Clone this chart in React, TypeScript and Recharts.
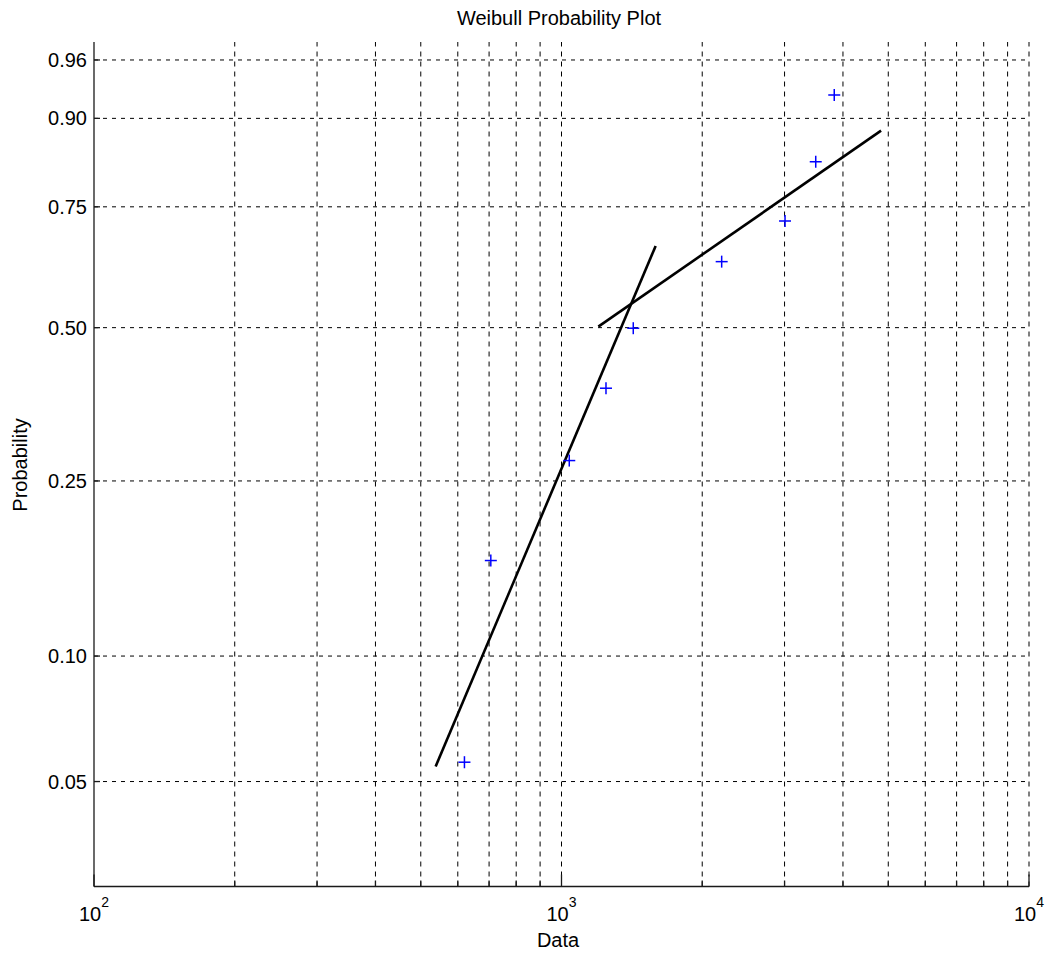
import React from 'react';
import { ScatterChart, Scatter, XAxis, YAxis, ReferenceLine } from 'recharts';

// ---- data ----
const dataX = [620, 706, 1039, 1245, 1424, 2201, 3007, 3498, 3832];
const dataP = [0.0557, 0.1666, 0.2763, 0.3872, 0.4989, 0.6366, 0.7215, 0.8341, 0.9282];

const fit1X = [538, 1590];
const fit1P = [0.0544, 0.6697];

const fit2X = [1199, 4826];
const fit2P = [0.5021, 0.883];

const yTickLabels = ['0.05', '0.10', '0.25', '0.50', '0.75', '0.90', '0.96'];
const xMajorTicks = [100, 1000, 10000];
const xMajorExponents = ['2', '3', '4'];
const xAllTicks = [100, 200, 300, 400, 500, 600, 700, 800, 900, 1000, 2000, 3000, 4000, 5000, 6000, 7000, 8000, 9000, 10000];
const xGridTicks = [200, 300, 400, 500, 600, 700, 800, 900, 1000, 2000, 3000, 4000, 5000, 6000, 7000, 8000, 9000, 10000];
const xDomain = [100, 10000];
const pDomain = [0.0277, 0.9718];

// Weibull probability-paper transform
const wb = (p: number) => Math.log(-Math.log(1 - p));

const points = dataX.map((x, i) => ({ x, w: wb(dataP[i]) }));
const fit1 = fit1X.map((x, i) => ({ x, w: wb(fit1P[i]) }));
const fit2 = fit2X.map((x, i) => ({ x, w: wb(fit2P[i]) }));
const yTicks = yTickLabels.map((l) => wb(parseFloat(l)));

const FONT = '"Liberation Sans", Arial, Helvetica, sans-serif';
const AXIS = '#1a1a1a';

const XTick = (props: any) => {
  const { x, y, payload } = props;
  const idx = xMajorTicks.indexOf(payload.value);
  const major = idx >= 0;
  return (
    <g>
      <line x1={x} x2={x} y1={y} y2={y - (major ? 12 : 6)} stroke={AXIS} strokeWidth={1.3} />
      {major && (
        <text x={x} y={y + 34.5} textAnchor="middle" fontFamily={FONT} fill="#000">
          <tspan fontSize={20}>10</tspan>
          <tspan fontSize={14} dy={-14}>{xMajorExponents[idx]}</tspan>
        </text>
      )}
    </g>
  );
};

const YTick = (props: any) => {
  const { x, y, index } = props;
  const axisX = x + 7;
  return (
    <g>
      <line x1={axisX} x2={axisX + 6} y1={y} y2={y} stroke={AXIS} strokeWidth={1.3} />
      <text x={x} y={y} dy="0.355em" textAnchor="end" fontFamily={FONT} fontSize={20} fill="#000">
        {yTickLabels[index]}
      </text>
    </g>
  );
};

const Plus = (props: any) => {
  const { cx, cy } = props;
  return (
    <g>
      <line x1={cx - 6} x2={cx + 6} y1={cy} y2={cy} stroke="#0000ff" strokeWidth={1.5} />
      <line x1={cx} x2={cx} y1={cy - 6} y2={cy + 6} stroke="#0000ff" strokeWidth={1.5} />
    </g>
  );
};

const NoShape = () => <g />;

export default function App() {
  return (
    <div style={{ position: 'absolute', left: 0, top: 0, width: 1048, height: 955, background: '#fff' }}>
      <ScatterChart width={1048} height={955} margin={{ top: 42, right: 19, left: 0, bottom: 0 }}>
        <XAxis
          type="number"
          dataKey="x"
          scale="log"
          domain={xDomain}
          ticks={xAllTicks}
          interval={0}
          allowDataOverflow
          height={68.5}
          tickSize={0}
          tickMargin={0}
          tickLine={false}
          axisLine={{ stroke: AXIS, strokeWidth: 1.3 }}
          tick={<XTick />}
        />
        <YAxis
          type="number"
          dataKey="w"
          domain={[wb(pDomain[0]), wb(pDomain[1])]}
          ticks={yTicks}
          interval={0}
          allowDataOverflow
          width={94}
          tickSize={0}
          tickMargin={7}
          tickLine={false}
          axisLine={{ stroke: AXIS, strokeWidth: 1.3 }}
          tick={<YTick />}
        />
        {yTicks.map((t) => (
          <ReferenceLine key={'h' + t} y={t} stroke="#000" strokeWidth={1} strokeDasharray="4 5" />
        ))}
        {xGridTicks.map((t) => (
          <ReferenceLine key={'v' + t} x={t} stroke="#000" strokeWidth={1} strokeDasharray="5 5" />
        ))}
        <Scatter data={fit1} line={{ stroke: '#000', strokeWidth: 2.6 }} shape={<NoShape />} isAnimationActive={false} />
        <Scatter data={fit2} line={{ stroke: '#000', strokeWidth: 2.6 }} shape={<NoShape />} isAnimationActive={false} />
        <Scatter data={points} shape={<Plus />} isAnimationActive={false} />
        <text x={559} y={25} textAnchor="middle" fontFamily={FONT} fontSize={20} fill="#000">
          Weibull Probability Plot
        </text>
        <text x={558} y={947} textAnchor="middle" fontFamily={FONT} fontSize={20} fill="#000">
          Data
        </text>
        <text transform="translate(26.7, 465) rotate(-90)" textAnchor="middle" fontFamily={FONT} fontSize={20} fill="#000">
          Probability
        </text>
      </ScatterChart>
    </div>
  );
}
